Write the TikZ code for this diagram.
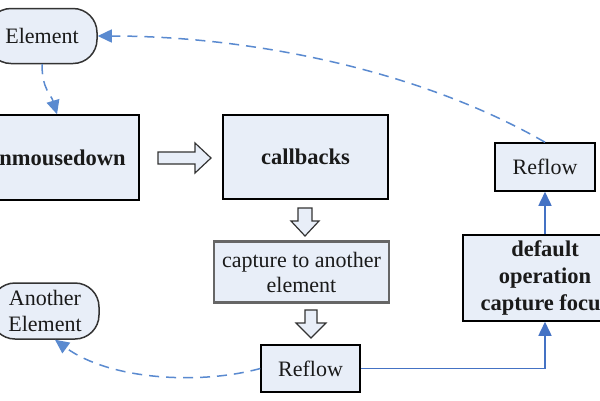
\documentclass[tikz,border=0pt]{standalone}
\usepackage{fontspec}
\setmainfont{Liberation Serif}
\usetikzlibrary{arrows.meta}
\definecolor{boxfill}{HTML}{E8EEF8}
\definecolor{lineblue}{HTML}{4472C4}
\definecolor{dashblue}{HTML}{5A8AD0}
\definecolor{txt}{HTML}{1A1A1A}
\begin{document}
\begin{tikzpicture}[x=1pt,y=-1pt,
  font=\fontsize{22}{26}\selectfont,
  box/.style={draw=black, line width=1.5pt, fill=boxfill, inner sep=0pt, align=center, text=txt},
  graybox/.style={box, draw=black!60, line width=2.2pt},
  oval/.style={box, draw=black!80, rounded corners=24pt},
  dashA/.style={draw=dashblue, line width=1.5pt, dash pattern=on 10pt off 7pt, -{Triangle[length=14pt,width=13pt]}},
  solA/.style={draw=lineblue, line width=1.5pt, -{Triangle[length=14pt,width=13pt]}},
  hollow/.style={draw=black!80, line width=1.2pt, fill=boxfill, line join=miter}
]
\useasboundingbox (0,0) rectangle (600,400);
\clip (0,0) rectangle (600,400);
\fill[white] (0,0) rectangle (600,400);

\node[oval, minimum width=110pt, minimum height=55pt] (el) at (42,36) {Element};
\node[oval, minimum width=108pt, minimum height=56pt, font=\fontsize{22}{26}\selectfont] (ael) at (45,311) {Another\\Element};

\node[box, minimum width=164pt, minimum height=85pt, font=\fontsize{22.5}{26}\selectfont\bfseries] (onm) at (57,157.5) {onmousedown};
\node[box, minimum width=165pt, minimum height=84pt, font=\fontsize{22.5}{26}\selectfont\bfseries] (cb) at (305.5,157) {callbacks};
\node[graybox, minimum width=175pt, minimum height=61pt, font=\fontsize{22}{25}\selectfont] (cap) at (301.5,272) {capture to another\\element};
\node[box, minimum width=99pt, minimum height=47pt] (rf1) at (310.5,368.5) {Reflow};
\node[box, minimum width=164pt, minimum height=86pt, font=\fontsize{22.5}{27}\selectfont\bfseries] (def) at (545,278) {default\\operation\\capture focus};
\node[box, minimum width=100pt, minimum height=48pt] (rf2) at (545,167) {Reflow};

% hollow block arrows
\draw[hollow] (158,152) -- (195,152) -- (195,143) -- (211,158) -- (195,173) -- (195,164) -- (158,164) -- cycle;
\draw[hollow] (298,208) -- (312,208) -- (312,221) -- (319,221) -- (305,236) -- (291,221) -- (298,221) -- cycle;
\draw[hollow] (305,310) -- (317,310) -- (317,323) -- (326,323) -- (311,338) -- (296,323) -- (305,323) -- cycle;

% connectors
\draw[dashA] (el.south) .. controls +(0,25) and +(-6,-20) .. (onm.north);
\draw[dashA] (rf2.north) .. controls (420,70) and (250,36) .. (el.east);
\draw[dashA] (rf1.west) .. controls (200,385) and (110,380) .. ([xshift=10pt]ael.south);
\draw[solA] (rf1.east) -| (def.south);
\draw[solA] (def.north) -- (rf2.south);
\end{tikzpicture}
\end{document}
